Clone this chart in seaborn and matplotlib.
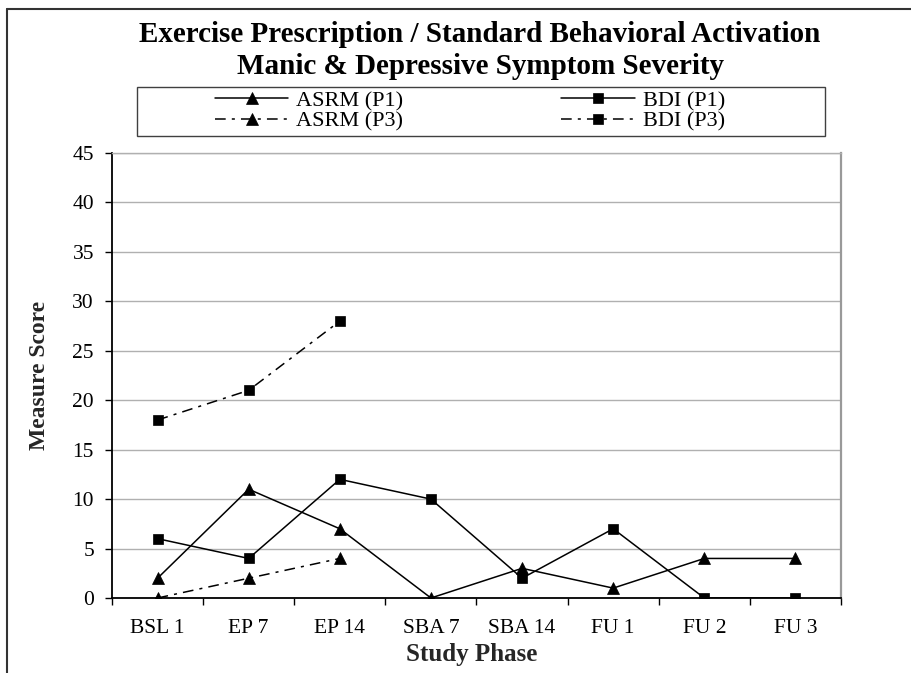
import numpy as np
import matplotlib
matplotlib.use("Agg")
import matplotlib.pyplot as plt
from matplotlib.lines import Line2D
from matplotlib.patches import Rectangle
import seaborn as sns

# Study phases on the x axis
phases = ["BSL 1", "EP 7", "EP 14", "SBA 7", "SBA 14", "FU 1", "FU 2", "FU 3"]

# Symptom scores per phase
asrm_p1 = [2, 11, 7, 0, 3, 1, 4, 4]
bdi_p1 = [6, 4, 12, 10, 2, 7, 0, 0]
asrm_p3 = [0, 2, 4]
bdi_p3 = [18, 21, 28]

y_ticks = list(range(0, 50, 5))

sns.set_theme(style="white")
plt.rcParams["font.family"] = ["Liberation Serif", "DejaVu Serif"]
plt.rcParams["text.color"] = "black"
plt.rcParams["xtick.color"] = "black"
plt.rcParams["ytick.color"] = "black"

W, H = 912, 673
fig = plt.figure(figsize=(W / 100, H / 100), dpi=100)
fig.patch.set_facecolor("white")
ax = fig.add_axes([112 / W, 1 - 598 / H, (841 - 112) / W, (598 - 153) / H])

solid = "-"
dashdot = (0, (7, 4, 2, 4))
tri_size, sq_size = 8.5, 7

series = [
    ("ASRM (P1)", asrm_p1, "^", tri_size, solid),
    ("ASRM (P3)", asrm_p3, "^", tri_size, dashdot),
    ("BDI (P1)", bdi_p1, "s", sq_size, solid),
    ("BDI (P3)", bdi_p3, "s", sq_size, dashdot),
]

handles, labels = [], []
for name, vals, mk, ms, ls in series:
    sns.lineplot(x=np.arange(len(vals)), y=vals, ax=ax, color="black",
                 linewidth=1.1, linestyle=ls, marker=mk, markersize=ms,
                 markeredgecolor="black", markeredgewidth=0.5,
                 legend=False, zorder=3)
    handles.append(Line2D([], [], color="black", linewidth=1.1, linestyle=ls,
                          marker=mk, markersize=ms, markeredgecolor="black",
                          markeredgewidth=0.5))
    labels.append(name)

ax.set_xlim(-0.5, 7.5)
ax.set_ylim(0, 45)
ax.set_yticks(y_ticks)
ax.set_xticks(range(len(phases)))
ax.set_xticklabels(phases)
ax.set_xticks(np.arange(-0.5, len(phases), 1), minor=True)
ax.tick_params(axis="x", which="major", bottom=True, length=0, pad=15, labelsize=15.5)
ax.tick_params(axis="x", which="minor", bottom=True, length=5, width=1,
               direction="out", color="black")
ax.tick_params(axis="y", left=True, length=5, width=1, direction="out",
               pad=8, labelsize=15.5, color="black")
ax.grid(axis="y", color="#b0b0b0", linewidth=1.0)
ax.grid(axis="x", visible=False)
ax.set_axisbelow(True)

for side in ("left", "bottom"):
    ax.spines[side].set_color("black")
    ax.spines[side].set_linewidth(1.3)
ax.spines["right"].set_color("#999999")
ax.spines["right"].set_linewidth(1.6)
ax.spines["top"].set_color("#b0b0b0")
ax.spines["top"].set_linewidth(1.0)

ax.set_xlabel("Study Phase", fontsize=18, fontweight="bold")
ax.xaxis.set_label_coords(0.494, -0.102)
ax.set_ylabel("Measure Score", fontsize=17, fontweight="bold")
ax.yaxis.set_label_coords(-0.085, 0.5)

# Two-line title
fig.text(0.526, 1 - 34 / H, "Exercise Prescription / Standard Behavioral Activation",
         ha="center", va="center", fontsize=21, fontweight="bold")
fig.text(0.527, 1 - 67 / H, "Manic & Depressive Symptom Severity",
         ha="center", va="center", fontsize=21, fontweight="bold")

# Legend in a framed box under the title
fig.add_artist(Rectangle((137 / W, 1 - 136 / H), (825 - 137) / W, (136 - 87) / H,
                         transform=fig.transFigure, fill=False,
                         edgecolor="#404040", linewidth=1.0))
fig.legend(handles, labels, ncol=2, loc="center",
           bbox_to_anchor=(470 / W, 1 - 111 / H), frameon=False, fontsize=16,
           handlelength=3.3, handletextpad=0.36, columnspacing=7.1,
           labelspacing=0.0, borderpad=0)

# Outer chart frame
fig.add_artist(Line2D([7 / W, 7 / W], [0, 1 - 9 / H], transform=fig.transFigure,
                      color="#333333", linewidth=1.5))
fig.add_artist(Line2D([7 / W, 1], [1 - 9 / H, 1 - 9 / H], transform=fig.transFigure,
                      color="#333333", linewidth=1.5))

fig.savefig("out.png", dpi=100)
